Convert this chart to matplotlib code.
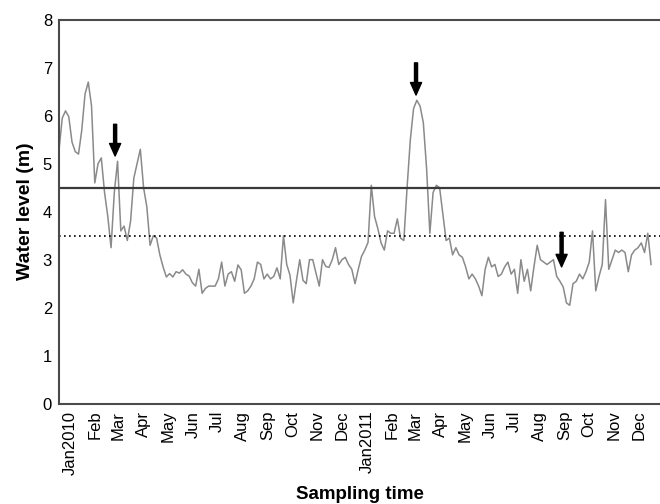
import pandas as pd
import matplotlib.pyplot as plt

plt.rcParams['font.family'] = ['Liberation Sans', 'DejaVu Sans']

# water level, one value every 4 days from 1 Jan 2010
level_2010a = [5.29, 5.95, 6.10, 5.98, 5.45, 5.25, 5.20, 5.70, 6.45, 6.70,
               6.20, 4.60, 5.00, 5.12, 4.40, 3.90, 3.25, 4.40, 5.05, 3.60,
               3.70, 3.40, 3.80, 4.70, 5.00, 5.30, 4.50]
level_2010b = [4.10, 3.30, 3.50, 3.45, 3.10, 2.85, 2.64, 2.71, 2.64, 2.75,
               2.72, 2.79, 2.70, 2.66, 2.52, 2.45, 2.80, 2.30, 2.40, 2.45,
               2.45, 2.45, 2.60, 2.95, 2.45, 2.70, 2.75, 2.55, 2.89, 2.79,
               2.30]
level_2010c = [2.35, 2.45, 2.60, 2.95, 2.90, 2.60, 2.70, 2.60, 2.65, 2.83,
               2.60, 3.50, 2.90, 2.68, 2.10, 2.57, 3.00, 2.57, 2.50, 3.00,
               3.00, 2.72, 2.45, 3.00, 2.86, 2.84, 3.00, 3.25, 2.90, 3.00,
               3.05]
level_2011a = [2.90, 2.80, 2.50, 2.80, 3.07, 3.20, 3.36, 4.55, 3.90, 3.65,
               3.35, 3.20, 3.60, 3.55, 3.55, 3.85, 3.45, 3.40, 4.50, 5.50,
               6.15, 6.32, 6.20, 5.85, 4.90, 3.55, 4.40, 4.55, 4.50, 3.95,
               3.40]
level_2011b = [3.45, 3.10, 3.25, 3.10, 3.05, 2.85, 2.60, 2.70, 2.60, 2.45,
               2.25, 2.80, 3.05, 2.85, 2.90, 2.65, 2.70, 2.85, 2.95, 2.70,
               2.80, 2.30, 3.00, 2.55, 2.80, 2.35, 2.85, 3.30, 3.00, 2.95]
level_2011c = [2.90, 2.95, 3.00, 2.65, 2.55, 2.43, 2.10, 2.05, 2.50, 2.55,
               2.70, 2.60, 2.75, 2.95, 3.60, 2.35, 2.65, 2.90, 4.25, 2.80,
               3.00, 3.20, 3.15, 3.20, 3.15, 2.75, 3.10, 3.20, 3.25, 3.35,
               3.15, 3.55, 2.90]

level = level_2010a + level_2010b + level_2010c + level_2011a + level_2011b + level_2011c
dates = pd.date_range('2010-01-01', periods=len(level), freq='4D')

upper_limit = 4.5
lower_limit = 3.5

# arrows: date, tail value, tip value
arrow_dates = ['2010-03-11', '2011-03-16', '2011-09-11']
arrow_tail = [5.82, 7.10, 3.57]
arrow_tip = [5.16, 6.43, 2.85]

month_names = ['Jan2010', 'Feb', 'Mar', 'Apr', 'May', 'Jun', 'Jul', 'Aug', 'Sep',
               'Oct', 'Nov', 'Dec', 'Jan2011', 'Feb', 'Mar', 'Apr', 'May', 'Jun',
               'Jul', 'Aug', 'Sep', 'Oct', 'Nov', 'Dec']
# labels sit in the middle of each month
month_ticks = pd.date_range('2010-01-01', periods=24, freq='MS') + pd.Timedelta(days=14)

fig = plt.figure(figsize=(6.6, 5.04), dpi=100)
ax = fig.add_axes([0.0894, 0.199, 0.9106, 0.762])

ax.plot(dates, level, color='#8a8a8a', lw=1.1)
ax.axhline(upper_limit, color='#3a3a3a', lw=1.6)
ax.axhline(lower_limit, color='black', lw=1.2, ls=(0, (1, 2)))

for d, t0, t1 in zip(arrow_dates, arrow_tail, arrow_tip):
    d = pd.Timestamp(d)
    ax.annotate('', xy=(d, t1), xytext=(d, t0),
                arrowprops=dict(facecolor='black', edgecolor='black',
                                width=2.2, headwidth=8, headlength=9, shrink=0))

ax.set_ylim(0, 8)
ax.set_xlim(pd.Timestamp('2010-01-01'), pd.Timestamp('2012-01-10'))
ax.set_yticks(range(0, 9))
ax.set_xticks(month_ticks)
ax.set_xticklabels(month_names, rotation=90, fontsize=12)
ax.tick_params(axis='both', length=0, pad=5)
ax.tick_params(axis='y', labelsize=12)

for side in ['left', 'top', 'bottom']:
    ax.spines[side].set_color('#4a4a4a')
    ax.spines[side].set_linewidth(1.5)
ax.spines['right'].set_visible(False)

ax.set_ylabel('Water level (m)', fontsize=14, fontweight='bold', labelpad=6)
ax.set_xlabel('Sampling time', fontsize=13.5, fontweight='bold', labelpad=8)

fig.savefig('out.png', dpi=100)
